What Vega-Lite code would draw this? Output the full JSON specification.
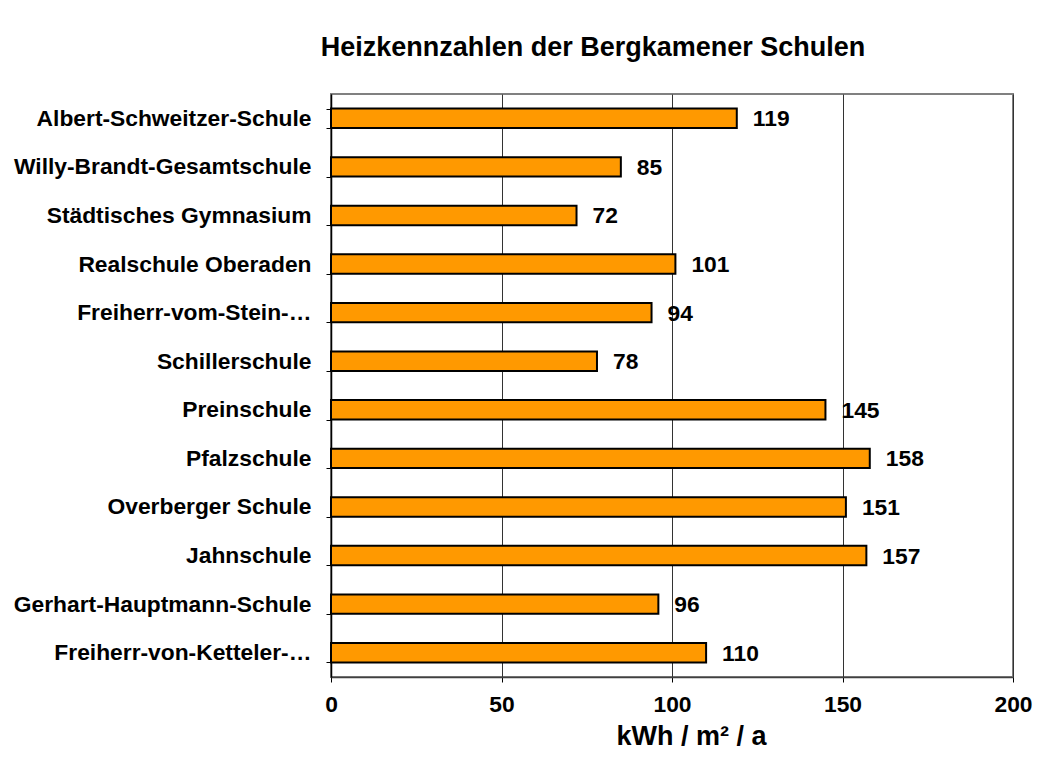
{
  "$schema": "https://vega.github.io/schema/vega-lite/v6.json",
  "width": 682,
  "height": 583,
  "autosize": {"type": "none"},
  "padding": {"left": 331, "top": 94, "right": 32, "bottom": 92},
  "background": "white",
  "title": {
    "text": "Heizkennzahlen der Bergkamener Schulen",
    "font": "Liberation Sans",
    "fontSize": 27,
    "fontWeight": "bold",
    "color": "#000000",
    "anchor": "middle",
    "frame": "group",
    "dx": -79,
    "offset": 21
  },
  "data": {
    "values": [
      {"schule": "Albert-Schweitzer-Schule", "wert": 119},
      {"schule": "Willy-Brandt-Gesamtschule", "wert": 85},
      {"schule": "Städtisches Gymnasium", "wert": 72},
      {"schule": "Realschule Oberaden", "wert": 101},
      {"schule": "Freiherr-vom-Stein-…", "wert": 94},
      {"schule": "Schillerschule", "wert": 78},
      {"schule": "Preinschule", "wert": 145},
      {"schule": "Pfalzschule", "wert": 158},
      {"schule": "Overberger Schule", "wert": 151},
      {"schule": "Jahnschule", "wert": 157},
      {"schule": "Gerhart-Hauptmann-Schule", "wert": 96},
      {"schule": "Freiherr-von-Ketteler-…", "wert": 110}
    ]
  },
  "encoding": {
    "y": {
      "field": "schule",
      "type": "nominal",
      "sort": null,
      "scale": {"paddingInner": 0.6, "paddingOuter": 0.3},
      "axis": {
        "title": null,
        "labelFont": "Liberation Sans",
        "labelFontSize": 22.8,
        "labelFontWeight": "bold",
        "labelColor": "#000000",
        "labelPadding": 15,
        "labelLimit": 400,
        "tickBand": "extent",
        "tickSize": 5,
        "tickColor": "#000000",
        "domainColor": "#000000",
        "domainWidth": 1.5,
        "grid": false
      }
    },
    "x": {
      "field": "wert",
      "type": "quantitative",
      "scale": {"domain": [0, 200], "nice": false},
      "axis": {
        "values": [0, 50, 100, 150, 200],
        "labelFlush": false,
        "title": "kWh / m² / a",
        "titleFont": "Liberation Sans",
        "titleFontSize": 27,
        "titleFontWeight": "bold",
        "titleColor": "#000000",
        "titlePadding": 8,
        "titleX": 360,
        "labelFont": "Liberation Sans",
        "labelFontSize": 22.8,
        "labelFontWeight": "bold",
        "labelColor": "#000000",
        "labelPadding": 11,
        "tickSize": 5,
        "tickColor": "#000000",
        "domainColor": "#404040",
        "domainWidth": 1.5,
        "grid": true,
        "gridColor": "#333333",
        "gridWidth": 1
      }
    }
  },
  "layer": [
    {
      "mark": {"type": "bar", "color": "#FF9900", "stroke": "#000000", "strokeWidth": 2}
    },
    {
      "mark": {
        "type": "text",
        "align": "left",
        "baseline": "middle",
        "dx": 16,
        "dy": 1,
        "font": "Liberation Sans",
        "fontSize": 22.8,
        "fontWeight": "bold",
        "color": "#000000"
      },
      "encoding": {"text": {"field": "wert", "type": "quantitative"}}
    }
  ],
  "config": {
    "view": {"stroke": "#808080", "strokeWidth": 2}
  }
}
